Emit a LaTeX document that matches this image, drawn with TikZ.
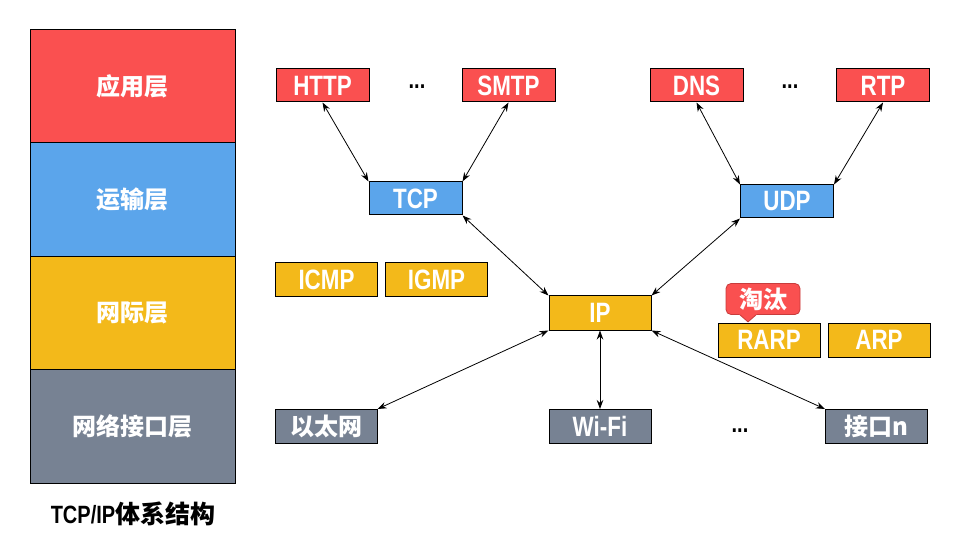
\documentclass[tikz,border=0pt]{standalone}
\usepackage{fontspec}
\setmainfont{Liberation Sans}[FakeStretch=0.8]
\newfontfamily\cjk{Noto Sans CJK SC}
\usetikzlibrary{arrows.meta,calc}

\definecolor{appred}{HTML}{FA5050}
\definecolor{tagline}{HTML}{C83C3C}
\definecolor{tpblue}{HTML}{5BA5EB}
\definecolor{ipyellow}{HTML}{F3B91A}
\definecolor{linkgray}{HTML}{778293}

\begin{document}
\begin{tikzpicture}[x=1pt, y=-1pt,
  layer/.style={draw, line width=1pt, minimum width=205pt, minimum height=113.5pt, inner sep=0pt, text=white, font=\cjk\bfseries\fontsize{24}{24}\selectfont},
  box/.style={draw, line width=1pt, minimum width=93pt, minimum height=33pt, inner sep=0pt, text=white, font=\bfseries\fontsize{28}{28}\selectfont},
  wbox/.style={box, minimum width=102pt, minimum height=34pt},
  cbox/.style={wbox, font=\cjk\bfseries\fontsize{24}{24}\selectfont},
  dots/.style={font=\bfseries\fontsize{25}{25}\selectfont},
  arr/.style={{Stealth[length=9pt,width=6.5pt]}-{Stealth[length=9pt,width=6.5pt]}, line width=0.8pt},
]
\useasboundingbox (0,0) rectangle (961,537);

% layer column
\node[layer, fill=appred] (app) at (132.5,86) {应用层};
\node[layer, fill=tpblue] (trans) at (132.5,199.5) {运输层};
\node[layer, fill=ipyellow] (net) at (132.5,313) {网际层};
\node[layer, fill=linkgray] (link) at (132.5,426.5) {网络接口层};
\node[font=\bfseries\fontsize{25}{25}\selectfont] (title) at (133,514) {TCP/IP{\cjk 体系结构}};

% application layer
\node[box, fill=appred] (http) at (322.5,85.5) {HTTP};
\node[dots] (dotsa) at (417,87) {...};
\node[box, fill=appred] (smtp) at (508.5,85.5) {SMTP};
\node[box, fill=appred] (dns) at (696.5,85.5) {DNS};
\node[dots] (dotsb) at (790,87) {...};
\node[box, fill=appred] (rtp) at (883,85.5) {RTP};

% transport layer
\node[box, fill=tpblue] (tcp) at (415.5,198.5) {TCP};
\node[box, fill=tpblue] (udp) at (787,201.5) {UDP};

% internet layer
\node[wbox, fill=ipyellow] (icmp) at (326.5,280) {ICMP};
\node[wbox, fill=ipyellow] (igmp) at (436.5,280) {IGMP};
\node[wbox, fill=ipyellow] (ip) at (600,313) {IP};
\node[wbox, fill=ipyellow] (rarp) at (769,340) {RARP};
\node[wbox, fill=ipyellow] (arp) at (879,340) {ARP};

% obsolete tag
\node[draw=tagline, fill=appred, rounded corners=5pt, line width=0.8pt, minimum width=74pt, minimum height=31pt, inner sep=0pt, text=white, font=\cjk\bfseries\fontsize{24}{24}\selectfont] (tag) at (763,299) {淘汰};
\fill[appred] ([xshift=-24pt,yshift=1pt]tag.south) -- ([xshift=-15pt,yshift=-7pt]tag.south) -- ([xshift=-6pt,yshift=1pt]tag.south) -- cycle;
\draw[tagline, line width=0.8pt] ([xshift=-23pt]tag.south) -- ([xshift=-15pt,yshift=-7pt]tag.south) -- ([xshift=-7pt]tag.south);

% network interface layer
\node[cbox, fill=linkgray] (eth) at (326,426.5) {以太网};
\node[wbox, fill=linkgray] (wifi) at (600,426.5) {Wi-Fi};
\node[dots] (dotsc) at (740,431) {...};
\node[cbox, fill=linkgray] (ifn) at (876.5,426.5) {接口n};

\draw[arr] (http.south) -- (tcp.north west);
\draw[arr] (smtp.south) -- (tcp.north east);
\draw[arr] (dns.south) -- (udp.north west);
\draw[arr] (rtp.south) -- (udp.north east);
\draw[arr] (tcp.south east) -- (ip.north west);
\draw[arr] (udp.south west) -- (ip.north east);
\draw[arr] (ip.south west) -- (eth.north east);
\draw[arr] (ip.south) -- (wifi.north);
\draw[arr] (ip.south east) -- (ifn.north west);
\end{tikzpicture}
\end{document}
